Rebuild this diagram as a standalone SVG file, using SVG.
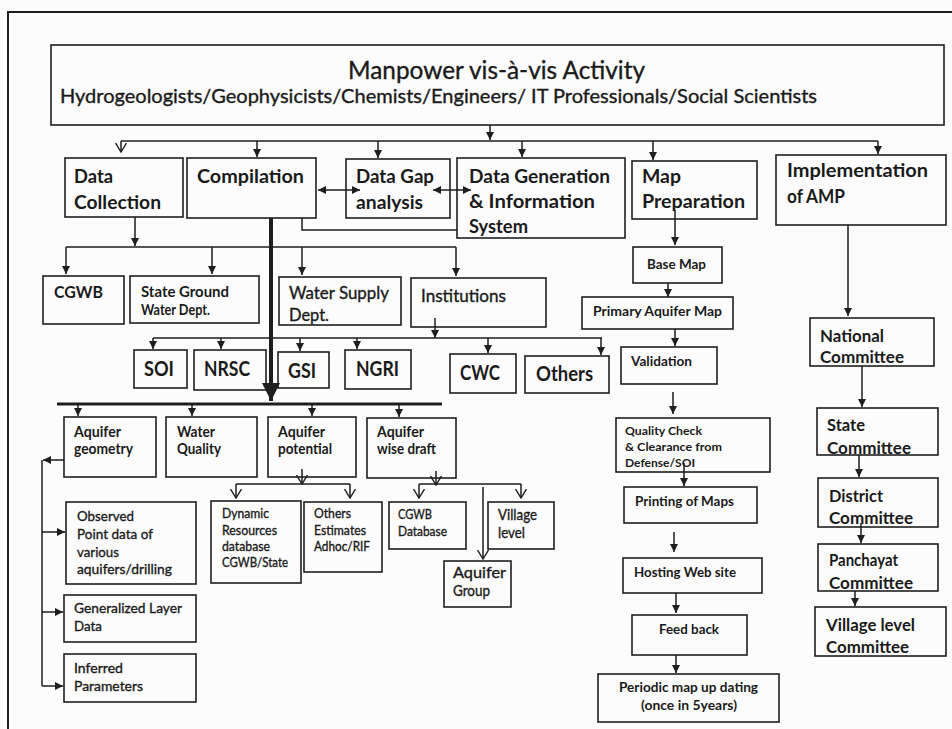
<svg xmlns="http://www.w3.org/2000/svg" width="952" height="729" viewBox="0 0 952 729">
  <style>
    .bx{fill:none;stroke:#1e1e1e;stroke-width:1.6}
    .ln{fill:none;stroke:#1e1e1e;stroke-width:1.5}
    .thick{fill:none;stroke:#1e1e1e;stroke-width:4}
    .bus{fill:none;stroke:#1e1e1e;stroke-width:3}
    text{font-family:Lato,"Liberation Sans",sans-serif;fill:#1a1a1a}
    .b{font-weight:bold}
    .n{font-weight:normal;stroke:#1a1a1a;stroke-width:0.35}
  </style>
  <defs>
    <marker id="ah" markerUnits="userSpaceOnUse" markerWidth="9" markerHeight="9" refX="8" refY="4" orient="auto-start-reverse">
      <path d="M0,0 L8,4 L0,8 z" fill="#1e1e1e"/>
    </marker>
    <marker id="av" markerUnits="userSpaceOnUse" markerWidth="10" markerHeight="12" refX="9" refY="5.5" orient="auto">
      <path d="M0,0 L9,5.5 L0,11" fill="none" stroke="#1e1e1e" stroke-width="1.4"/>
    </marker>
    <marker id="big" markerUnits="userSpaceOnUse" markerWidth="20" markerHeight="18" refX="18" refY="9" orient="auto">
      <path d="M0,0 L18,9 L0,18 z" fill="#1e1e1e"/>
    </marker>
  </defs>
  <rect width="952" height="729" fill="#fcfcfc"/>
  <!-- outer frame -->
  <path d="M8,729 V12 H952" fill="none" stroke="#1e1e1e" stroke-width="2"/>

  <!-- header -->
  <g id="title">
    <rect class="bx" x="51" y="45" width="893" height="80"/>
    <text class="n" x="348" y="79" font-size="25" textLength="297" lengthAdjust="spacingAndGlyphs">Manpower vis-à-vis Activity</text>
    <text class="n" x="60" y="103" font-size="19" textLength="757" lengthAdjust="spacingAndGlyphs">Hydrogeologists/Geophysicists/Chemists/Engineers/ IT Professionals/Social Scientists</text>
  </g>

  <!-- activities -->
  <g id="data-collection">
    <rect class="bx" x="65" y="158" width="118" height="59"/>
    <text class="b" x="74" y="183" font-size="18" textLength="39" lengthAdjust="spacingAndGlyphs">Data</text>
    <text class="b" x="74" y="209" font-size="18" textLength="87" lengthAdjust="spacingAndGlyphs">Collection</text>
  </g>
  <g id="compilation">
    <rect class="bx" x="187" y="158" width="129" height="60"/>
    <text class="b" x="197" y="183" font-size="18" textLength="107" lengthAdjust="spacingAndGlyphs">Compilation</text>
  </g>
  <g id="data-gap">
    <rect class="bx" x="346" y="159" width="104" height="59"/>
    <text class="b" x="356" y="183" font-size="18" textLength="78" lengthAdjust="spacingAndGlyphs">Data Gap</text>
    <text class="b" x="356" y="209" font-size="18" textLength="67" lengthAdjust="spacingAndGlyphs">analysis</text>
  </g>
  <g id="data-generation">
    <rect class="bx" x="457" y="158" width="168" height="80"/>
    <text class="b" x="469" y="183" font-size="18" textLength="141" lengthAdjust="spacingAndGlyphs">Data Generation</text>
    <text class="b" x="469" y="208" font-size="18" textLength="126" lengthAdjust="spacingAndGlyphs">&amp;  Information</text>
    <text class="b" x="469" y="233" font-size="18" textLength="59" lengthAdjust="spacingAndGlyphs">System</text>
  </g>
  <g id="map-preparation">
    <rect class="bx" x="632" y="161" width="125" height="58"/>
    <text class="b" x="642" y="183" font-size="18" textLength="39" lengthAdjust="spacingAndGlyphs">Map</text>
    <text class="b" x="642" y="208" font-size="18" textLength="103" lengthAdjust="spacingAndGlyphs">Preparation</text>
  </g>
  <g id="implementation">
    <rect class="bx" x="776" y="155" width="170" height="70"/>
    <text class="b" x="787" y="177" font-size="18" textLength="141" lengthAdjust="spacingAndGlyphs">Implementation</text>
    <text class="b" x="787" y="203" font-size="18" textLength="58" lengthAdjust="spacingAndGlyphs">of AMP</text>
  </g>

  <!-- data sources -->
  <g id="cgwb">
    <rect class="bx" x="43" y="276" width="81" height="48"/>
    <text class="b" x="54" y="298" font-size="17" textLength="49" lengthAdjust="spacingAndGlyphs">CGWB</text>
  </g>
  <g id="state-gw">
    <rect class="bx" x="130" y="276" width="129" height="47"/>
    <text class="b" x="141" y="297" font-size="15" textLength="88" lengthAdjust="spacingAndGlyphs">State Ground</text>
    <text class="b" x="141" y="315" font-size="15" textLength="69" lengthAdjust="spacingAndGlyphs">Water Dept.</text>
  </g>
  <g id="water-supply">
    <rect class="bx" x="279" y="277" width="122" height="48"/>
    <text class="n" x="289" y="299" font-size="17" textLength="100" lengthAdjust="spacingAndGlyphs">Water Supply</text>
    <text class="n" x="289" y="321" font-size="17" textLength="40" lengthAdjust="spacingAndGlyphs">Dept.</text>
  </g>
  <g id="institutions">
    <rect class="bx" x="411" y="278" width="135" height="49"/>
    <text class="n" x="421" y="302" font-size="17" textLength="85" lengthAdjust="spacingAndGlyphs">Institutions</text>
  </g>
  <g id="soi">
    <rect class="bx" x="134" y="350" width="53" height="38"/>
    <text class="b" x="144" y="376" font-size="20" textLength="30" lengthAdjust="spacingAndGlyphs">SOI</text>
  </g>
  <g id="nrsc">
    <rect class="bx" x="194" y="350" width="72" height="40"/>
    <text class="b" x="204" y="376" font-size="20" textLength="46" lengthAdjust="spacingAndGlyphs">NRSC</text>
  </g>
  <g id="gsi">
    <rect class="bx" x="278" y="352" width="51" height="36"/>
    <text class="b" x="288" y="378" font-size="20" textLength="28" lengthAdjust="spacingAndGlyphs">GSI</text>
  </g>
  <g id="ngri">
    <rect class="bx" x="345" y="350" width="66" height="39"/>
    <text class="b" x="356" y="376" font-size="20" textLength="43" lengthAdjust="spacingAndGlyphs">NGRI</text>
  </g>
  <g id="cwc">
    <rect class="bx" x="450" y="354" width="66" height="39"/>
    <text class="b" x="460" y="380" font-size="20" textLength="40" lengthAdjust="spacingAndGlyphs">CWC</text>
  </g>
  <g id="others">
    <rect class="bx" x="525" y="356" width="84" height="37"/>
    <text class="b" x="536" y="381" font-size="20" textLength="57" lengthAdjust="spacingAndGlyphs">Others</text>
  </g>

  <!-- aquifer outputs -->
  <g id="aquifer-geometry">
    <rect class="bx" x="64" y="417" width="92" height="60"/>
    <text class="b" x="74" y="437" font-size="15" textLength="47" lengthAdjust="spacingAndGlyphs">Aquifer</text>
    <text class="b" x="74" y="454" font-size="15" textLength="59" lengthAdjust="spacingAndGlyphs">geometry</text>
  </g>
  <g id="water-quality">
    <rect class="bx" x="166" y="417" width="91" height="60"/>
    <text class="b" x="177" y="437" font-size="15" textLength="38" lengthAdjust="spacingAndGlyphs">Water</text>
    <text class="b" x="177" y="454" font-size="15" textLength="44" lengthAdjust="spacingAndGlyphs">Quality</text>
  </g>
  <g id="aquifer-potential">
    <rect class="bx" x="268" y="417" width="88" height="60"/>
    <text class="b" x="278" y="437" font-size="15" textLength="47" lengthAdjust="spacingAndGlyphs">Aquifer</text>
    <text class="b" x="278" y="454" font-size="15" textLength="54" lengthAdjust="spacingAndGlyphs">potential</text>
  </g>
  <g id="aquifer-draft">
    <rect class="bx" x="367" y="418" width="89" height="60"/>
    <text class="b" x="377" y="437" font-size="15" textLength="47" lengthAdjust="spacingAndGlyphs">Aquifer</text>
    <text class="b" x="377" y="454" font-size="15" textLength="59" lengthAdjust="spacingAndGlyphs">wise draft</text>
  </g>
  <g id="observed">
    <rect class="bx" x="66" y="502" width="130" height="82"/>
    <text class="n" x="77" y="521" font-size="14" textLength="57" lengthAdjust="spacingAndGlyphs">Observed</text>
    <text class="n" x="77" y="539" font-size="14" textLength="76" lengthAdjust="spacingAndGlyphs">Point data of</text>
    <text class="n" x="77" y="557" font-size="14" textLength="42" lengthAdjust="spacingAndGlyphs">various</text>
    <text class="n" x="77" y="574" font-size="14" textLength="95" lengthAdjust="spacingAndGlyphs">aquifers/drilling</text>
  </g>
  <g id="generalized">
    <rect class="bx" x="64" y="595" width="132" height="47"/>
    <text class="n" x="74" y="613" font-size="14" textLength="108" lengthAdjust="spacingAndGlyphs">Generalized Layer</text>
    <text class="n" x="74" y="631" font-size="14" textLength="28" lengthAdjust="spacingAndGlyphs">Data</text>
  </g>
  <g id="inferred">
    <rect class="bx" x="64" y="654" width="132" height="48"/>
    <text class="n" x="74" y="673" font-size="14" textLength="49" lengthAdjust="spacingAndGlyphs">Inferred</text>
    <text class="n" x="74" y="691" font-size="14" textLength="69" lengthAdjust="spacingAndGlyphs">Parameters</text>
  </g>
  <g id="dynamic">
    <rect class="bx" x="211" y="501" width="90" height="82"/>
    <text class="n" x="222" y="518" font-size="13" textLength="47" lengthAdjust="spacingAndGlyphs">Dynamic</text>
    <text class="n" x="222" y="535" font-size="13" textLength="55" lengthAdjust="spacingAndGlyphs">Resources</text>
    <text class="n" x="222" y="551" font-size="13" textLength="48" lengthAdjust="spacingAndGlyphs">database</text>
    <text class="n" x="222" y="567" font-size="13" textLength="66" lengthAdjust="spacingAndGlyphs">CGWB/State</text>
  </g>
  <g id="other-estimates">
    <rect class="bx" x="304" y="502" width="78" height="70"/>
    <text class="n" x="314" y="518" font-size="13" textLength="37" lengthAdjust="spacingAndGlyphs">Others</text>
    <text class="n" x="314" y="535" font-size="13" textLength="52" lengthAdjust="spacingAndGlyphs">Estimates</text>
    <text class="n" x="314" y="551" font-size="13" textLength="56" lengthAdjust="spacingAndGlyphs">Adhoc/RIF</text>
  </g>
  <g id="cgwb-database">
    <rect class="bx" x="389" y="502" width="77" height="47"/>
    <text class="n" x="398" y="519" font-size="13" textLength="34" lengthAdjust="spacingAndGlyphs">CGWB</text>
    <text class="n" x="398" y="536" font-size="13" textLength="49" lengthAdjust="spacingAndGlyphs">Database</text>
  </g>
  <g id="village-level">
    <rect class="bx" x="488" y="502" width="66" height="47"/>
    <text class="n" x="498" y="520" font-size="15" textLength="39" lengthAdjust="spacingAndGlyphs">Village</text>
    <text class="n" x="498" y="538" font-size="15" textLength="27" lengthAdjust="spacingAndGlyphs">level</text>
  </g>
  <g id="aquifer-group">
    <rect class="bx" x="444" y="561" width="67" height="46"/>
    <text class="n" x="453" y="578" font-size="15" textLength="53" lengthAdjust="spacingAndGlyphs">Aquifer</text>
    <text class="n" x="453" y="596" font-size="15" textLength="37" lengthAdjust="spacingAndGlyphs">Group</text>
  </g>

  <!-- map chain -->
  <g id="base-map">
    <rect class="bx" x="633" y="247" width="89" height="36"/>
    <text class="b" x="647" y="269" font-size="13" textLength="59" lengthAdjust="spacingAndGlyphs">Base Map</text>
  </g>
  <g id="primary-map">
    <rect class="bx" x="582" y="297" width="151" height="32"/>
    <text class="b" x="593" y="316" font-size="13" textLength="129" lengthAdjust="spacingAndGlyphs">Primary  Aquifer Map</text>
  </g>
  <g id="validation">
    <rect class="bx" x="621" y="347" width="96" height="37"/>
    <text class="b" x="631" y="366" font-size="13" textLength="61" lengthAdjust="spacingAndGlyphs">Validation</text>
  </g>
  <g id="quality-check">
    <rect class="bx" x="616" y="418" width="154" height="54"/>
    <text class="b" x="625" y="435" font-size="12" textLength="77" lengthAdjust="spacingAndGlyphs">Quality Check</text>
    <text class="b" x="625" y="451" font-size="12" textLength="97" lengthAdjust="spacingAndGlyphs">&amp; Clearance from</text>
    <text class="b" x="625" y="467" font-size="12" textLength="70" lengthAdjust="spacingAndGlyphs">Defense/SOI</text>
  </g>
  <g id="printing">
    <rect class="bx" x="624" y="487" width="133" height="36"/>
    <text class="b" x="635" y="506" font-size="14" textLength="99" lengthAdjust="spacingAndGlyphs">Printing of Maps</text>
  </g>
  <g id="hosting">
    <rect class="bx" x="623" y="558" width="139" height="35"/>
    <text class="b" x="634" y="577" font-size="14" textLength="102" lengthAdjust="spacingAndGlyphs">Hosting Web site</text>
  </g>
  <g id="feedback">
    <rect class="bx" x="632" y="615" width="115" height="40"/>
    <text class="b" x="659" y="634" font-size="14" textLength="60" lengthAdjust="spacingAndGlyphs">Feed back</text>
  </g>
  <g id="periodic">
    <rect class="bx" x="598" y="674" width="181" height="48"/>
    <text class="b" x="619" y="692" font-size="14" textLength="139" lengthAdjust="spacingAndGlyphs">Periodic map up dating</text>
    <text class="b" x="641" y="710" font-size="14" textLength="96" lengthAdjust="spacingAndGlyphs">(once in 5years)</text>
  </g>

  <!-- committees -->
  <g id="national">
    <rect class="bx" x="810" y="318" width="124" height="48"/>
    <text class="b" x="820" y="342" font-size="17" textLength="64" lengthAdjust="spacingAndGlyphs">National</text>
    <text class="b" x="820" y="363" font-size="17" textLength="84" lengthAdjust="spacingAndGlyphs">Committee</text>
  </g>
  <g id="state">
    <rect class="bx" x="817" y="408" width="121" height="47"/>
    <text class="b" x="827" y="431" font-size="17" textLength="38" lengthAdjust="spacingAndGlyphs">State</text>
    <text class="b" x="827" y="454" font-size="17" textLength="84" lengthAdjust="spacingAndGlyphs">Committee</text>
  </g>
  <g id="district">
    <rect class="bx" x="818" y="478" width="120" height="49"/>
    <text class="b" x="829" y="502" font-size="17" textLength="54" lengthAdjust="spacingAndGlyphs">District</text>
    <text class="b" x="829" y="524" font-size="17" textLength="84" lengthAdjust="spacingAndGlyphs">Committee</text>
  </g>
  <g id="panchayat">
    <rect class="bx" x="818" y="544" width="120" height="47"/>
    <text class="b" x="829" y="566" font-size="17" textLength="69" lengthAdjust="spacingAndGlyphs">Panchayat</text>
    <text class="b" x="829" y="589" font-size="17" textLength="84" lengthAdjust="spacingAndGlyphs">Committee</text>
  </g>
  <g id="village-committee">
    <rect class="bx" x="815" y="607" width="131" height="49"/>
    <text class="b" x="826" y="631" font-size="17" textLength="89" lengthAdjust="spacingAndGlyphs">Village level</text>
    <text class="b" x="826" y="653" font-size="17" textLength="83" lengthAdjust="spacingAndGlyphs">Committee</text>
  </g>

  <g id="connectors">
    <!-- header distribution -->
    <line class="ln" x1="490" y1="125" x2="490" y2="140" marker-end="url(#ah)"/>
    <line class="ln" x1="121" y1="141" x2="878" y2="141"/>
    <line class="ln" x1="121" y1="141" x2="121" y2="152" marker-end="url(#av)"/>
    <line class="ln" x1="257" y1="141" x2="257" y2="157" marker-end="url(#ah)"/>
    <line class="ln" x1="378" y1="141" x2="378" y2="158" marker-end="url(#ah)"/>
    <line class="ln" x1="522" y1="141" x2="522" y2="157" marker-end="url(#ah)"/>
    <line class="ln" x1="653" y1="141" x2="653" y2="160" marker-end="url(#ah)"/>
    <line class="ln" x1="878" y1="141" x2="878" y2="154" marker-end="url(#ah)"/>
    <!-- two-way links -->
    <line class="ln" x1="318" y1="190" x2="360" y2="190" marker-start="url(#ah)" marker-end="url(#ah)"/>
    <line class="ln" x1="433" y1="190" x2="471" y2="190" marker-start="url(#ah)" marker-end="url(#ah)"/>
    <polyline class="ln" points="302,218 302,230 457,230"/>
    <!-- data collection sources -->
    <line class="ln" x1="135" y1="217" x2="135" y2="246" marker-end="url(#ah)"/>
    <line class="ln" x1="66" y1="247" x2="456" y2="247"/>
    <line class="ln" x1="66" y1="247" x2="66" y2="274" marker-end="url(#ah)"/>
    <line class="ln" x1="212" y1="247" x2="212" y2="274" marker-end="url(#ah)"/>
    <line class="ln" x1="302" y1="247" x2="302" y2="275" marker-end="url(#ah)"/>
    <line class="ln" x1="456" y1="247" x2="456" y2="276" marker-end="url(#ah)"/>
    <!-- institutions -->
    <line class="ln" x1="435" y1="318" x2="435" y2="338" marker-end="url(#ah)"/>
    <line class="ln" x1="153" y1="338" x2="602" y2="338"/>
    <line class="ln" x1="153" y1="338" x2="153" y2="349" marker-end="url(#ah)"/>
    <line class="ln" x1="221" y1="338" x2="221" y2="349" marker-end="url(#ah)"/>
    <line class="ln" x1="300" y1="338" x2="300" y2="351" marker-end="url(#ah)"/>
    <line class="ln" x1="357" y1="338" x2="357" y2="349" marker-end="url(#ah)"/>
    <line class="ln" x1="488" y1="338" x2="488" y2="353" marker-end="url(#ah)"/>
    <line class="ln" x1="601" y1="338" x2="601" y2="355" marker-end="url(#ah)"/>
    <!-- compilation to outputs -->
    <line class="thick" x1="271" y1="218" x2="271" y2="401" marker-end="url(#big)"/>
    <line class="bus" x1="57" y1="404" x2="442" y2="404"/>
    <line class="ln" x1="78" y1="404" x2="78" y2="416" marker-end="url(#ah)"/>
    <line class="ln" x1="192" y1="404" x2="192" y2="416" marker-end="url(#ah)"/>
    <line class="ln" x1="312" y1="404" x2="312" y2="416" marker-end="url(#ah)"/>
    <line class="ln" x1="399" y1="404" x2="399" y2="417" marker-end="url(#ah)"/>
    <!-- geometry bracket -->
    <line class="ln" x1="64" y1="460" x2="43" y2="460" marker-end="url(#ah)"/>
    <line class="ln" x1="42" y1="460" x2="42" y2="686"/>
    <line class="ln" x1="42" y1="532" x2="65" y2="532" marker-end="url(#ah)"/>
    <line class="ln" x1="42" y1="612" x2="63" y2="612" marker-end="url(#ah)"/>
    <line class="ln" x1="42" y1="686" x2="63" y2="686" marker-end="url(#ah)"/>
    <!-- potential -->
    <line class="ln" x1="302" y1="469" x2="302" y2="484" marker-end="url(#av)"/>
    <line class="ln" x1="236" y1="484" x2="350" y2="484"/>
    <line class="ln" x1="236" y1="484" x2="236" y2="498" marker-end="url(#av)"/>
    <line class="ln" x1="350" y1="484" x2="350" y2="498" marker-end="url(#av)"/>
    <!-- draft -->
    <line class="ln" x1="436" y1="471" x2="436" y2="485" marker-end="url(#av)"/>
    <line class="ln" x1="419" y1="484" x2="521" y2="484"/>
    <line class="ln" x1="419" y1="484" x2="419" y2="498" marker-end="url(#av)"/>
    <line class="ln" x1="521" y1="484" x2="521" y2="498" marker-end="url(#av)"/>
    <line class="ln" x1="483" y1="487" x2="483" y2="559" marker-end="url(#av)"/>
    <!-- map chain -->
    <line class="ln" x1="675" y1="210" x2="675" y2="245" marker-end="url(#ah)"/>
    <line class="ln" x1="668" y1="283" x2="668" y2="297" marker-end="url(#ah)"/>
    <line class="ln" x1="675" y1="329" x2="675" y2="346" marker-end="url(#ah)"/>
    <line class="ln" x1="673" y1="392" x2="673" y2="414" marker-end="url(#ah)"/>
    <line class="ln" x1="684" y1="463" x2="684" y2="486" marker-end="url(#ah)"/>
    <line class="ln" x1="674" y1="532" x2="674" y2="552" marker-end="url(#ah)"/>
    <line class="ln" x1="676" y1="593" x2="676" y2="613" marker-end="url(#ah)"/>
    <line class="ln" x1="676" y1="655" x2="676" y2="673" marker-end="url(#ah)"/>
    <!-- committees -->
    <line class="ln" x1="848" y1="225" x2="848" y2="316" marker-end="url(#ah)"/>
    <line class="ln" x1="862" y1="366" x2="862" y2="407" marker-end="url(#ah)"/>
    <line class="ln" x1="859" y1="455" x2="859" y2="477" marker-end="url(#ah)"/>
    <line class="ln" x1="861" y1="523" x2="861" y2="543" marker-end="url(#ah)"/>
    <line class="ln" x1="855" y1="591" x2="855" y2="606" marker-end="url(#ah)"/>
  </g>
</svg>
